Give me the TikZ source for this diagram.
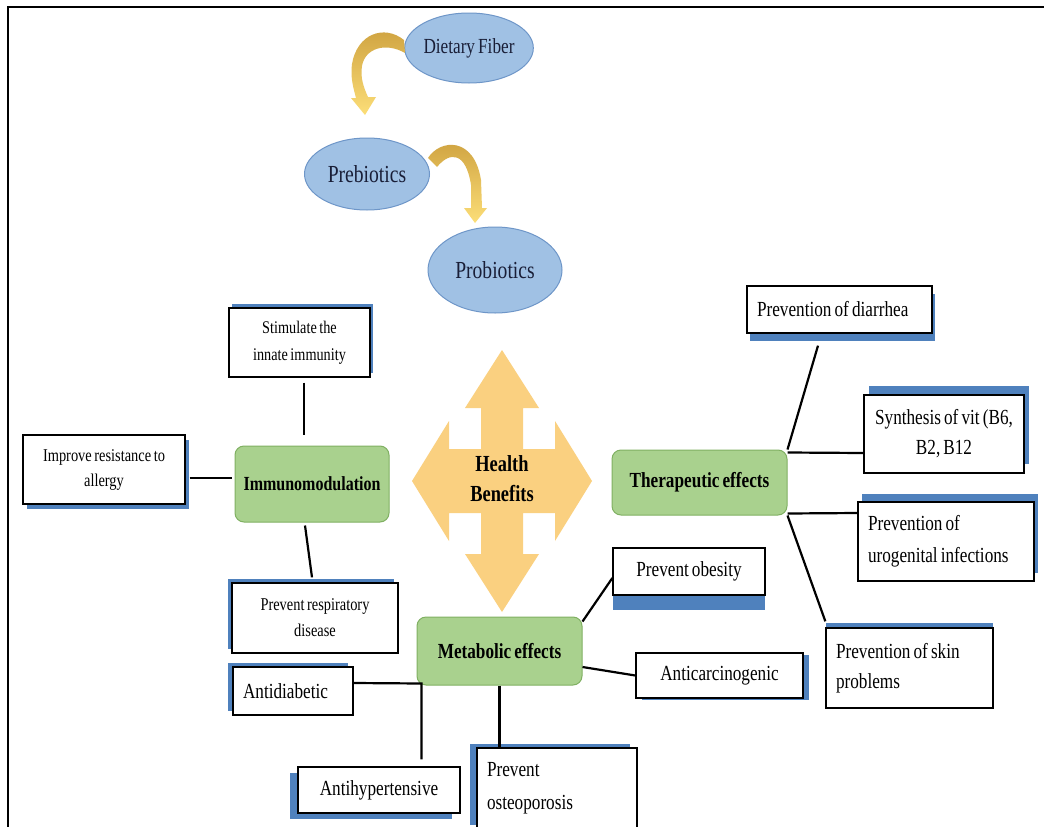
\documentclass[tikz,border=0pt]{standalone}
\usepackage{fontspec}
\setmainfont{Liberation Serif}[FakeStretch=0.8,WordSpace=0.72]
\usetikzlibrary{shapes.geometric,shadows}
\definecolor{sblue}{RGB}{79,129,189}
\definecolor{ellfill}{RGB}{160,193,228}
\definecolor{elldraw}{RGB}{110,150,200}
\definecolor{grfill}{RGB}{169,209,142}
\definecolor{grdraw}{RGB}{128,176,98}
\definecolor{hbfill}{RGB}{250,208,128}
\definecolor{golddark}{RGB}{205,160,62}
\definecolor{goldlight}{RGB}{252,222,120}
\definecolor{elltext}{RGB}{25,30,55}
\begin{document}
\begin{tikzpicture}[x=1pt,y=-1pt,
  ell/.style={ellipse, draw=elldraw, line width=1pt, fill=ellfill, inner sep=0pt, text=elltext},
  grn/.style={rectangle, rounded corners=9pt, draw=grdraw, line width=1pt, fill=grfill, inner sep=0pt, font=\fontsize{21.5}{26}\selectfont\bfseries},
  bx/.style={rectangle, draw=black, line width=1.3pt, fill=white, inner sep=0pt},
  bsh/.style 2 args={general shadow={fill=sblue, shadow xshift=#1, shadow yshift=#2}},
  conn/.style={draw=black, line width=2.2pt},
  rt/.style={font=\fontsize{21.5}{31}\selectfont}]
\useasboundingbox (0,0) rectangle (1044,827);
\clip (0,0) rectangle (1044,827);
\fill[white] (0,0) rectangle (1044,827);
\draw[line width=2pt] (8,827) -- (8,7) -- (1044,7);

% top ellipses
\node[ell, minimum width=122, minimum height=70, font=\fontsize{21.5}{24}\selectfont] (diet) at (469,48) {Dietary Fiber};
\node[ell, minimum width=125, minimum height=72, font=\fontsize{24.5}{28}\selectfont] (preb) at (367,174) {Prebiotics};
\node[ell, minimum width=134, minimum height=86, font=\fontsize{24.5}{28}\selectfont] (prob) at (495,270) {Probiotics};

% curved arrows
\shade[top color=golddark, bottom color=goldlight] (404,40) .. controls (384,24) and (357,34) .. (352,64) .. controls (350,78) and (354,90) .. (356,98) -- (351,98) -- (365,115) -- (376,97) -- (368,97) .. controls (364,88) and (360,78) .. (362,66) .. controls (365,48) and (386,42) .. (405,53) -- cycle;
\shade[top color=golddark, bottom color=goldlight] (428,158) .. controls (440,139) and (474,136) .. (481,180) -- (482,208) -- (487,208) -- (475,223) -- (464,208) -- (471,208) -- (471,185) .. controls (466,152) and (450,151) .. (437,167) -- cycle;

% health benefits arrow
\fill[hbfill] (502,350) -- (539,408) -- (523,408) -- (523,449) -- (555,449) -- (555,421) -- (592,481) -- (555,541) -- (555,513) -- (523,513) -- (523,554) -- (539,554) -- (502,612) -- (465,554) -- (481,554) -- (481,513) -- (449,513) -- (449,541) -- (412,481) -- (449,421) -- (449,449) -- (481,449) -- (481,408) -- (465,408) -- cycle;
\node[font=\fontsize{23}{30}\selectfont\bfseries, align=center] (hb) at (502,479) {Health\\Benefits};

% green hubs
\node[grn, minimum width=154, minimum height=76, font=\fontsize{20}{24}\selectfont\bfseries] (immuno) at (312,484) {Immunomodulation};
\node[grn, minimum width=175, minimum height=65] (therap) at (699.5,482.5) {Therapeutic effects};
\node[grn, minimum width=165, minimum height=68] (metab) at (499.5,651) {Metabolic effects};

% left boxes
\node[bx, bsh={3pt}{4pt}, align=center, minimum width=141, minimum height=69, font=\fontsize{17.8}{27}\selectfont] (stim) at (299.5,342.5) {Stimulate the\\innate immunity};
\node[bx, bsh={4pt}{-5pt}, align=center, minimum width=162, minimum height=69, font=\fontsize{18}{25}\selectfont] (allergy) at (104,469.5) {Improve resistance to\\allergy};
\node[bx, bsh={-4pt}{4pt}, align=center, minimum width=166, minimum height=70, font=\fontsize{18}{26}\selectfont] (resp) at (315,618) {Prevent respiratory\\disease};

% right boxes
\node[bx, bsh={3pt}{-8pt}, rt, align=flush left, text width=165, inner xsep=10pt, minimum height=47] (diarr) at (839.5,309.5) {Prevention of diarrhea};
\node[bx, bsh={5pt}{9pt}, align=center, minimum width=160, minimum height=78, font=\fontsize{21.5}{30}\selectfont] (synth) at (944,434) {Synthesis of vit (B6,\\B2, B12};
\node[bx, bsh={4pt}{8pt}, align=flush left, text width=156, inner xsep=10pt, minimum height=79, font=\fontsize{21.5}{32}\selectfont] (uro) at (946,541.5) {Prevention of\\urogenital infections};
\node[bx, bsh={0pt}{5pt}, align=flush left, text width=147, inner xsep=10pt, minimum height=80, font=\fontsize{21.5}{30}\selectfont] (skin) at (909.5,668) {Prevention of skin\\problems};

% metabolic boxes
\node[bx, bsh={0pt}{-15pt}, rt, align=center, minimum width=152, minimum height=47] (obes) at (689,571.5) {Prevent obesity};
\node[bx, bsh={6pt}{-2pt}, rt, align=center, minimum width=167, minimum height=45] (anticar) at (719.5,675.5) {Anticarcinogenic};
\node[bx, bsh={-5pt}{4pt}, rt, align=flush left, text width=100, inner xsep=10pt, minimum height=48] (antidia) at (293,691) {Antidiabetic};
\node[bx, bsh={-8pt}{-6pt}, rt, align=center, minimum width=162, minimum height=46] (antihyp) at (379,790) {Antihypertensive};
\node[bx, bsh={-7pt}{4pt}, align=flush left, text width=140, inner xsep=10pt, minimum height=81, font=\fontsize{21.5}{33}\selectfont] (osteo) at (557,788.5) {Prevent\\osteoporosis};

% connectors
\draw[conn] ([xshift=4.5pt,yshift=-5pt]stim.south) -- ([xshift=-8pt,yshift=11pt]immuno.north);
\draw[conn] ([xshift=4pt,yshift=-8.5pt]allergy.east) -- ([xshift=-3pt,yshift=6pt]immuno.west);
\draw[conn] ([xshift=-7pt,yshift=-3pt]immuno.south) -- ([xshift=-3pt,yshift=5pt]resp.north);

\draw[conn] (therap.north east) -- ([xshift=-21.5pt,yshift=-12pt]diarr.south);
\draw[conn] ([yshift=-3pt]therap.north east) -- ([yshift=-19pt]synth.west);
\draw[conn] ([yshift=2pt]therap.south east) -- ([yshift=28.5pt]uro.west);
\draw[conn] (therap.south east) -- ([yshift=6pt]skin.north west);

\draw[conn] ([yshift=-5pt]metab.north east) -- ([yshift=-6.5pt]obes.west);
\draw[conn] ([yshift=-16pt]metab.east) -- (anticar.west);
\draw[conn] (metab.south) -- (metab.south |- osteo.north);
\coordinate (mj) at ([xshift=5pt,yshift=2pt]metab.south west);
\draw[conn, shorten >=7pt] ([yshift=8pt]antidia.east) -- (mj) -- (mj |- antihyp.north);
\end{tikzpicture}
\end{document}
